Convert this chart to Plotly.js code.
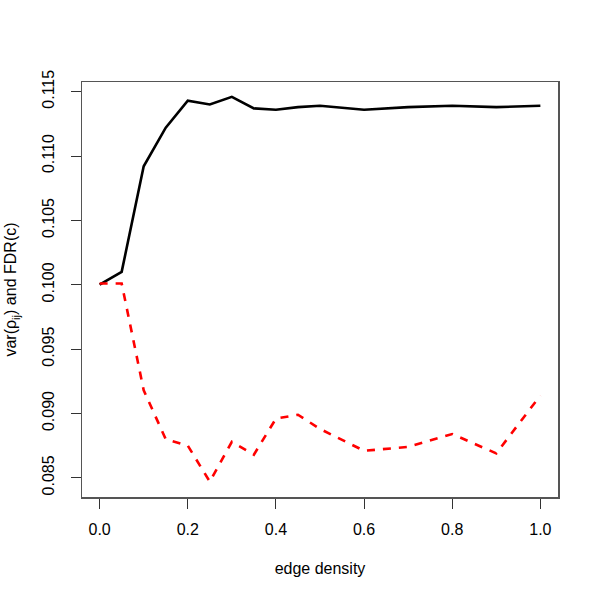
<!DOCTYPE html>
<html>
<head>
<meta charset="utf-8">
<script src="https://cdn.plot.ly/plotly-3.0.1.min.js"></script>
<style>html,body{margin:0;padding:0;background:#fff;}#chart{width:600px;height:600px;}</style>
</head>
<body>
<div id="chart"></div>
<script>
var edgeDensity = [0, 0.05, 0.1, 0.15, 0.2, 0.25, 0.3, 0.35, 0.4, 0.45, 0.5, 0.6, 0.7, 0.8, 0.9, 1.0];
var varRho = [0.1000, 0.1010, 0.1092, 0.1122, 0.1143, 0.1140, 0.1146, 0.1137, 0.1136, 0.1138, 0.1139, 0.1136, 0.1138, 0.1139, 0.1138, 0.1139];
var fdr = [0.1001, 0.1001, 0.0918, 0.0880, 0.0875, 0.0847, 0.0878, 0.0868, 0.0896, 0.0899, 0.0888, 0.0871, 0.0874, 0.0884, 0.0869, 0.0914];
var xTicks = [0, 0.2, 0.4, 0.6, 0.8, 1.0];
var xTickText = ["0.0", "0.2", "0.4", "0.6", "0.8", "1.0"];
var yTicks = [0.085, 0.090, 0.095, 0.100, 0.105, 0.110, 0.115];
var yTickText = ["0.085", "0.090", "0.095", "0.100", "0.105", "0.110", "0.115"];

var traces = [
  {x: edgeDensity, y: varRho, type: 'scatter', mode: 'lines',
   line: {color: '#000000', width: 2.6}, showlegend: false},
  {x: edgeDensity, y: fdr, type: 'scatter', mode: 'lines',
   line: {color: '#ff0000', width: 2.6, dash: '8px,8px'}, showlegend: false}
];
var fontFam = 'Liberation Sans, Arial, Helvetica, sans-serif';
var layout = {
  width: 600, height: 600,
  margin: {l: 82, r: 42, t: 82, b: 102.5},
  paper_bgcolor: '#ffffff', plot_bgcolor: '#ffffff',
  font: {family: fontFam, size: 16, color: '#000'},
  xaxis: {
    range: [-0.04, 1.04], tickvals: xTicks, ticktext: xTickText,
    showgrid: false, zeroline: false, showline: true, mirror: true,
    linecolor: '#555', linewidth: 1.5,
    ticks: 'outside', ticklen: 10, tickcolor: '#333', tickwidth: 1,
    ticklabelstandoff: 7,
    tickfont: {family: fontFam, size: 16, color: '#000'},
    title: {text: 'edge density', font: {family: fontFam, size: 16, color: '#000'}, standoff: 26}
  },
  yaxis: {
    range: [0.08351, 0.11575], tickvals: yTicks, ticktext: yTickText,
    tickangle: -90,
    showgrid: false, zeroline: false, showline: true, mirror: true,
    linecolor: '#555', linewidth: 1.5,
    ticks: 'outside', ticklen: 10, tickcolor: '#333', tickwidth: 1,
    ticklabelstandoff: 10,
    tickfont: {family: fontFam, size: 16, color: '#000'},
    title: {text: 'var(ρ<sub>ij</sub>) and FDR(c)', font: {family: fontFam, size: 16, color: '#000'}, standoff: 19}
  }
};
Plotly.newPlot('chart', traces, layout, {staticPlot: true, displayModeBar: false});
</script>
</body>
</html>
